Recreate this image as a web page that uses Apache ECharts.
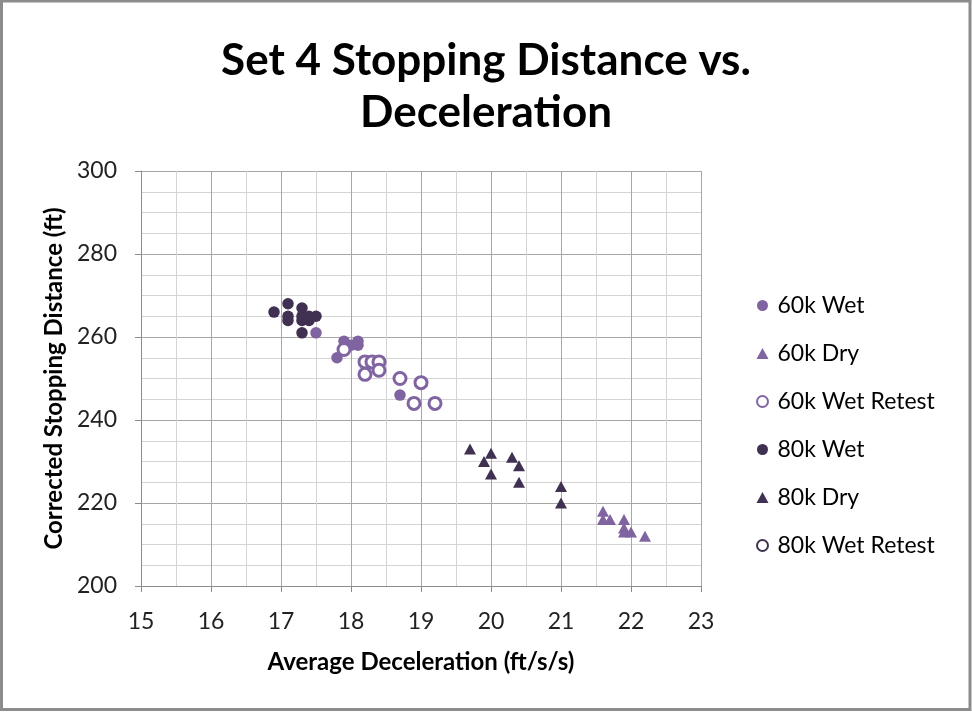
<!DOCTYPE html>
<html>
<head>
<meta charset="utf-8">
<script src="https://cdn.jsdelivr.net/npm/echarts@6/dist/echarts.min.js"></script>
<style>
html,body{margin:0;padding:0;background:#fff;}
#c{width:972px;height:712px;}
</style>
</head>
<body>
<div id="c"></div>
<script>
// ---- data ----
const wet60X = [17.5, 17.8, 17.9, 18.0, 18.1, 18.1, 18.7];
const wet60Y = [261, 255, 259, 258, 259, 258, 246];

const dry60X = [21.6, 21.6, 21.7, 21.9, 21.9, 21.9, 22.0, 22.2];
const dry60Y = [218, 216, 216, 216, 214, 213, 213, 212];

const retest60X = [17.9, 18.2, 18.3, 18.4, 18.2, 18.4, 18.7, 19.0, 18.9, 19.2];
const retest60Y = [257, 254, 254, 254, 251, 252, 250, 249, 244, 244];

const wet80X = [16.9, 17.1, 17.1, 17.1, 17.3, 17.3, 17.4, 17.5, 17.3, 17.4, 17.3];
const wet80Y = [266, 268, 265, 264, 267, 265, 265, 265, 264, 264, 261];

const dry80X = [19.7, 20.0, 19.9, 20.0, 20.3, 20.4, 20.4, 21.0, 21.0];
const dry80Y = [233, 232, 230, 227, 231, 229, 225, 224, 220];

const retest80X = [];
const retest80Y = [];

const seriesNames = ['60k Wet', '60k Dry', '60k Wet Retest', '80k Wet', '80k Dry', '80k Wet Retest'];
const titleText = 'Set 4 Stopping Distance vs.\nDeceleration';
const xTitle = 'Average Deceleration (ft/s/s)';
const yTitle = 'Corrected Stopping Distance (ft)';

// ---- build ----
const LIGHT = '#8064A2';
const DARK = '#403152';
const FONT = 'Lato';
function pts(xs, ys) { return xs.map((x, i) => [x, ys[i]]); }

function filled(name, xs, ys, symbol, color) {
  return {
    name, type: 'scatter', data: pts(xs, ys), symbol,
    symbolSize: symbol === 'triangle' ? [12, 11] : 11.5,
    itemStyle: { color: color, opacity: 1 },
    emphasis: { disabled: true }
  };
}
function hollow(name, xs, ys, color) {
  return {
    name, type: 'scatter', data: pts(xs, ys), symbol: 'circle', symbolSize: 12,
    itemStyle: { color: '#ffffff', borderColor: color, borderWidth: 3, opacity: 1 },
    emphasis: { disabled: true }
  };
}

const chart = echarts.init(document.getElementById('c'), null, { renderer: 'canvas' });
chart.setOption({
  animation: false,
  backgroundColor: '#ffffff',
  title: {
    text: titleText,
    left: 'center',
    top: 30,
    textStyle: { fontFamily: FONT, fontWeight: 'bold', fontSize: 44, lineHeight: 52, color: '#000' }
  },
  grid: { left: 141, right: 271, top: 171, bottom: 126 },
  xAxis: {
    type: 'value', min: 15, max: 23, interval: 1,
    name: xTitle, nameLocation: 'middle', nameGap: 64,
    nameTextStyle: { fontFamily: FONT, fontWeight: 'bold', fontSize: 24, color: '#000' },
    axisLine: { show: true, lineStyle: { color: '#8c8c8c', width: 1 } },
    axisTick: { show: true, length: 6, lineStyle: { color: '#8c8c8c' } },
    axisLabel: { fontFamily: FONT, fontSize: 23, color: '#222', margin: 24 },
    splitLine: { show: true, lineStyle: { color: '#a6a6a6', width: 1 } },
    minorTick: { show: false, splitNumber: 2 },
    minorSplitLine: { show: true, lineStyle: { color: '#d4d4d4', width: 1 } }
  },
  yAxis: {
    type: 'value', min: 200, max: 300, interval: 20,
    name: yTitle, nameLocation: 'middle', nameGap: 71, nameRotate: 90,
    nameTextStyle: { fontFamily: FONT, fontWeight: 'bold', fontSize: 24, color: '#000' },
    axisLine: { show: true, lineStyle: { color: '#8c8c8c', width: 1 } },
    axisTick: { show: true, length: 6, lineStyle: { color: '#8c8c8c' } },
    axisLabel: { fontFamily: FONT, fontSize: 23, color: '#222', margin: 24 },
    splitLine: { show: true, lineStyle: { color: '#a6a6a6', width: 1 } },
    minorTick: { show: false, splitNumber: 4 },
    minorSplitLine: { show: true, lineStyle: { color: '#d4d4d4', width: 1 } }
  },
  legend: {
    orient: 'vertical', left: 751, top: 288,
    itemWidth: 12, itemHeight: 11, itemGap: 23,
    data: seriesNames,
    textStyle: { fontFamily: FONT, fontSize: 23, color: '#000', lineHeight: 25, padding: [0, 0, 0, 4] }
  },
  graphic: [{
    type: 'rect', silent: true, z: 100,
    shape: { x: 1.5, y: 1, width: 968.5, height: 708.5 },
    style: { fill: null, stroke: '#8c8c8c', lineWidth: 3 }
  }],
  series: [
    filled(seriesNames[0], wet60X, wet60Y, 'circle', LIGHT),
    filled(seriesNames[1], dry60X, dry60Y, 'triangle', LIGHT),
    hollow(seriesNames[2], retest60X, retest60Y, LIGHT),
    filled(seriesNames[3], wet80X, wet80Y, 'circle', DARK),
    filled(seriesNames[4], dry80X, dry80Y, 'triangle', DARK),
    hollow(seriesNames[5], retest80X, retest80Y, DARK)
  ]
});
</script>
</body>
</html>
